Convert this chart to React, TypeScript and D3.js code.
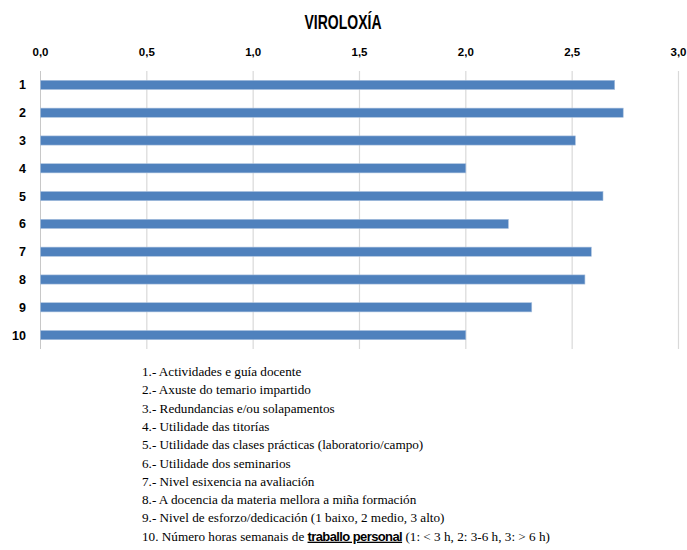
import React from "react";
import * as d3 from "d3";

const title = "VIROLOXÍA";
const categories = ["1", "2", "3", "4", "5", "6", "7", "8", "9", "10"];
const values = [2.7, 2.74, 2.515, 2.0, 2.645, 2.2, 2.59, 2.56, 2.31, 2.0];
const ticks = [0, 0.5, 1.0, 1.5, 2.0, 2.5, 3.0];
const legendLines = [
  "1.- Actividades e guía docente",
  "2.- Axuste do temario impartido",
  "3.- Redundancias e/ou solapamentos",
  "4.- Utilidade das titorías",
  "5.- Utilidade das clases prácticas (laboratorio/campo)",
  "6.- Utilidade dos seminarios",
  "7.- Nivel esixencia na avaliación",
  "8.- A docencia da materia mellora a miña formación",
  "9.- Nivel de esforzo/dedicación (1 baixo, 2 medio, 3 alto)",
];
const lastLine = ["10. Número horas semanais de ", "traballo personal", " (1: < 3 h, 2: 3-6 h, 3: > 6 h)"];

export default function App() {
  const W = 687, H = 550;
  const x = d3.scaleLinear().domain([0, 3]).range([40.5, 678.5]);
  const y = d3.scaleBand().domain(categories).range([71, 349]).paddingInner(0.67).paddingOuter(0.335);
  const fmt = (v: number) => v.toFixed(1).replace(".", ",");
  const sans = "'Liberation Sans', Arial, sans-serif";
  const serif = "'Liberation Serif', 'Times New Roman', serif";
  return (
    <svg width={W} height={H} style={{ position: "absolute", left: 0, top: 0, background: "#fff" }}>
      <rect width={W} height={H} fill="#fff" />
      <text x={343} y={29} textAnchor="middle" fontFamily={sans} fontWeight="bold" fontSize={19.5} textLength={77} lengthAdjust="spacingAndGlyphs">{title}</text>
      {ticks.map((t) => (
        <g key={t}>
          {t > 0 && <line x1={x(t)} x2={x(t)} y1={71} y2={349} stroke="#d9d9d9" strokeWidth={1.2} />}
          <text x={x(t)} y={56} textAnchor="middle" fontFamily={sans} fontWeight="bold" fontSize={11.5}>{fmt(t)}</text>
        </g>
      ))}
      <line x1={x(0)} x2={x(0)} y1={71} y2={349} stroke="#c8c8c8" strokeWidth={1} />
      {categories.map((c, i) => (
        <g key={c}>
          <rect x={x(0)} y={y(c)!} width={x(values[i]) - x(0)} height={y.bandwidth()} fill="#4f81bd" stroke="#a9c0de" strokeWidth={0.6} />
          <text x={26} y={y(c)! + y.bandwidth() / 2 + 4.5} textAnchor="end" fontFamily={sans} fontWeight="bold" fontSize={12.5}>{c}</text>
        </g>
      ))}
      {legendLines.map((l, i) => (
        <text key={i} x={142} y={376 + i * 18.3} fontFamily={serif} fontSize={13.2}>{l}</text>
      ))}
      <text x={142} y={376 + 9 * 18.3} fontFamily={serif} fontSize={13.2}>
        <tspan>{lastLine[0]}</tspan>
        <tspan fontFamily={sans} fontWeight="bold" fontSize={13} letterSpacing={-0.6} textDecoration="underline">{lastLine[1]}</tspan>
        <tspan>{lastLine[2]}</tspan>
      </text>
    </svg>
  );
}
